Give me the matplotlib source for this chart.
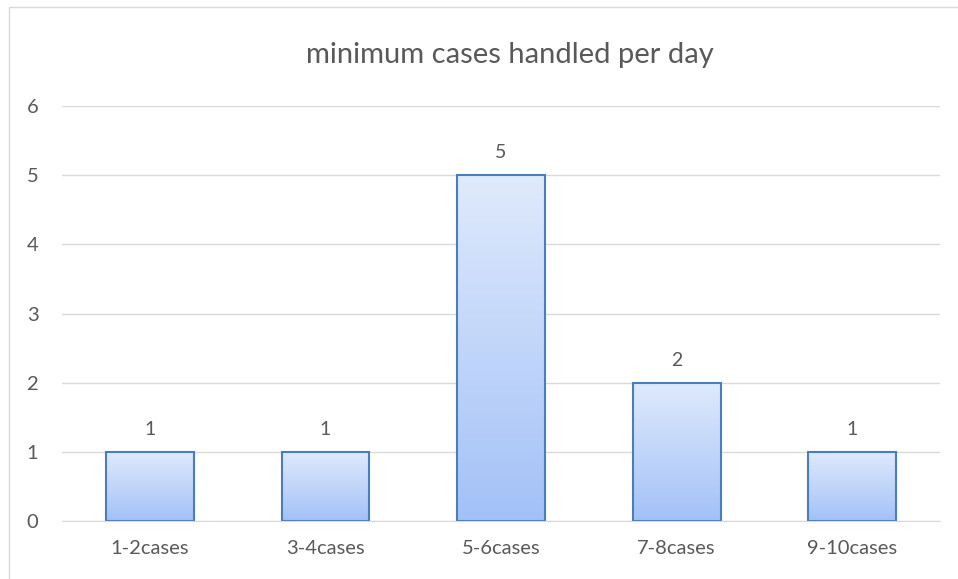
import matplotlib
matplotlib.use("Agg")
import matplotlib.pyplot as plt
import numpy as np
from matplotlib.colors import LinearSegmentedColormap
from matplotlib.patches import Rectangle

categories = ["1-2cases", "3-4cases", "5-6cases", "7-8cases", "9-10cases"]
values = [1, 1, 5, 2, 1]
y_ticks = [0, 1, 2, 3, 4, 5, 6]
title = "minimum cases handled per day"

plt.rcParams["font.family"] = ["Lato", "DejaVu Sans"]
text_color = "#595959"
grid_color = "#d9d9d9"

fig = plt.figure(figsize=(9.58, 5.79), dpi=100)
W, H = 958, 579

# outer chart frame
fig.patches.append(Rectangle((9 / W, -0.05), 1.0, 1 - 7 / H + 0.05,
                             transform=fig.transFigure, fill=False,
                             edgecolor="#d9d9d9", linewidth=1.0))

ax = fig.add_axes([62 / W, 1 - 521 / H, (940 - 62) / W, (521 - 106) / H])

cmap = LinearSegmentedColormap.from_list("barfill", ["#a3c1f7", "#dfeafc"])
grad = np.linspace(0, 1, 256).reshape(-1, 1)
width = 0.5
x = np.arange(len(categories))
for xi, v in zip(x, values):
    ax.imshow(grad, cmap=cmap, origin="lower", aspect="auto",
              extent=(xi - width / 2, xi + width / 2, 0, v), zorder=2)
    ax.add_patch(Rectangle((xi - width / 2, 0), width, v, fill=False,
                           edgecolor="#4a7ebb", linewidth=1.5, zorder=3))
    ax.text(xi, v + 0.2, str(v), ha="center", va="bottom",
            fontsize=14, color=text_color)

ax.set_xlim(-0.5, len(categories) - 0.5)
ax.set_ylim(0, 6)
ax.set_yticks(y_ticks)
ax.set_xticks(x)
ax.set_xticklabels(categories)
ax.tick_params(axis="both", length=0, labelsize=14.5, labelcolor=text_color)
ax.tick_params(axis="y", pad=17)
ax.tick_params(axis="x", pad=14)
ax.grid(axis="y", color=grid_color, linewidth=1.0, zorder=0)
ax.set_axisbelow(True)
for s in ["top", "right", "left"]:
    ax.spines[s].set_visible(False)
ax.spines["bottom"].set_color(grid_color)
ax.spines["bottom"].set_zorder(4)

fig.text(510 / W, 1 - 55 / H, title, ha="center", va="center",
         fontsize=21, color=text_color)

fig.savefig("out.png", dpi=100)
